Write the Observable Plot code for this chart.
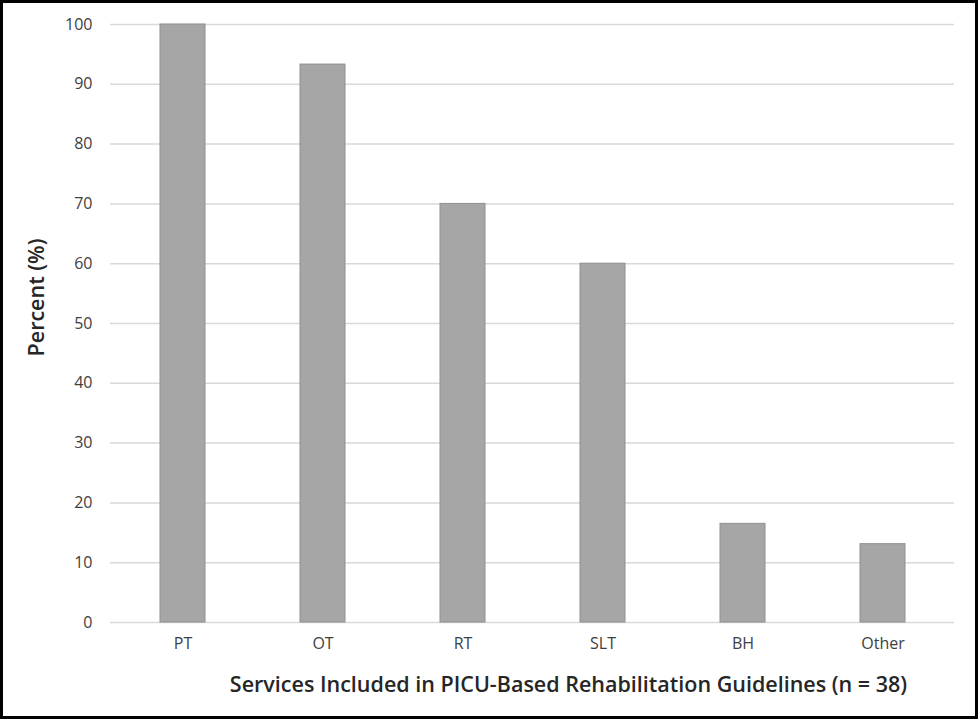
<!DOCTYPE html>
<html>
<head>
<meta charset="utf-8">
<script src="https://cdn.jsdelivr.net/npm/d3@7"></script>
<script src="https://cdn.jsdelivr.net/npm/@observablehq/plot@0.6"></script>
<style>
  html, body { margin: 0; padding: 0; background: #fff; }
  #wrap { position: relative; width: 978px; height: 722px; overflow: hidden; }
  #frame { position: absolute; left: 0; top: 0; width: 978px; height: 719px; box-sizing: border-box; border: 3px solid #000; pointer-events: none; }
  svg { font-family: "Open Sans", Lato, sans-serif; }
</style>
</head>
<body>
<div id="wrap"><div id="chart"></div><div id="frame"></div></div>
<script>
const categories = ["PT", "OT", "RT", "SLT", "BH", "Other"];
const percents = [100, 93.3, 70, 60, 16.5, 13.1];
const yTicks = [0, 10, 20, 30, 40, 50, 60, 70, 80, 90, 100];
const xTitle = "Services Included in PICU-Based Rehabilitation Guidelines (n = 38)";
const yTitle = "Percent (%)";

const data = categories.map((c, i) => ({category: c, value: percents[i]}));

const chart = Plot.plot({
  width: 978,
  height: 722,
  marginLeft: 110,
  marginRight: 24,
  marginTop: 24,
  marginBottom: 100,
  style: {fontFamily: "'Open Sans', Lato, sans-serif", background: "#fff"},
  x: {domain: categories, paddingInner: 0.68, paddingOuter: 0.34, align: 0.5},
  y: {domain: [0, 100]},
  marks: [
    Plot.gridY(yTicks, {stroke: "#d9d9d9", strokeOpacity: 1, strokeWidth: 1.5}),
    Plot.barY(data, {x: "category", y: "value", fill: "#a6a6a6", stroke: "#8f8f8f", strokeWidth: 1}),
    Plot.axisY(yTicks, {tickSize: 0, tickPadding: 18, fontSize: 16, fill: "#404040", label: null}),
    Plot.axisX({tickSize: 0, tickPadding: 15, fontSize: 16, fill: "#404040", label: null}),
    Plot.text([yTitle], {frameAnchor: "left", textAnchor: "middle", lineAnchor: "middle", rotate: -90, dx: -73, dy: -26, fontSize: 21.5, fontWeight: 600, fill: "#262626"}),
    Plot.text([xTitle], {frameAnchor: "bottom", textAnchor: "middle", lineAnchor: "middle", dx: 36, dy: 63, fontSize: 21.5, fontWeight: 600, fill: "#262626"})
  ]
});
document.getElementById("chart").appendChild(chart);
</script>
</body>
</html>
